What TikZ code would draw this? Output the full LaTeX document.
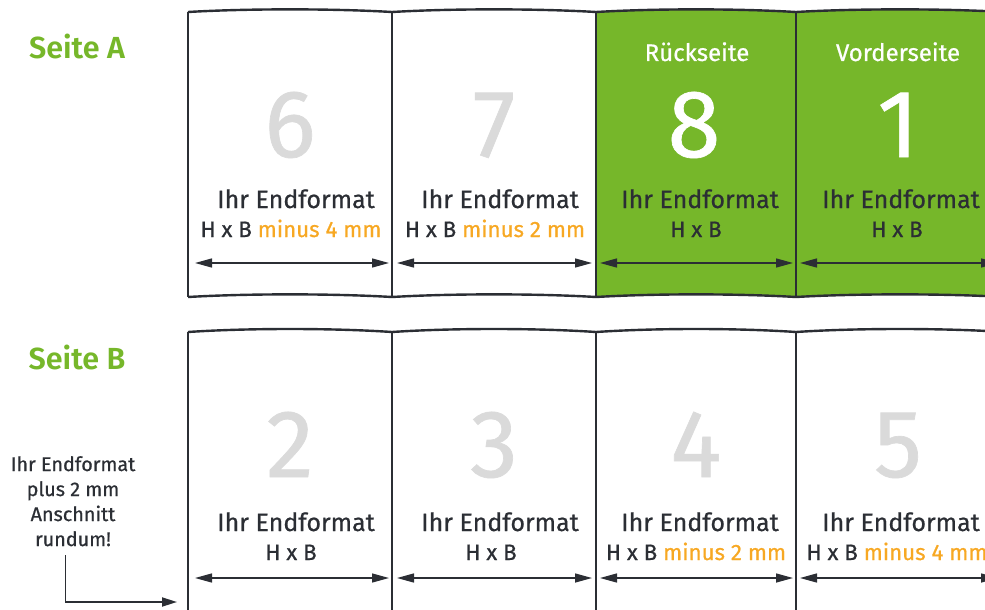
\documentclass[tikz,border=0pt]{standalone}
\usepackage{fontspec}
\setmainfont{Fira Sans}[BoldFont=* SemiBold]
\newfontfamily\regf{Fira Sans}[FakeBold=0.7]
\usetikzlibrary{arrows.meta}
\definecolor{dgreen}{HTML}{76B72A}
\definecolor{dgrey}{HTML}{DADADA}
\definecolor{dorange}{HTML}{F7A823}
\definecolor{ddark}{HTML}{2B2E34}
\tikzset{
  outline/.style={draw=ddark,line width=2.4pt,line join=round},
  dimarrow/.style={draw=ddark,line width=1.4pt,{Triangle[length=17pt,width=9pt]}-{Triangle[length=17pt,width=9pt]}},
  bignum/.style={anchor=base,inner sep=0pt,font=\regf\fontsize{96}{100}\selectfont,text=dgrey},
  endfmt/.style={anchor=base,inner sep=0pt,font=\regf\fontsize{25}{30}\selectfont,text=ddark},
  hxb/.style={anchor=base,inner sep=0pt,font=\regf\fontsize{22.3}{26}\selectfont,text=ddark},
  sidelabel/.style={anchor=base,inner sep=0pt,font=\bfseries\fontsize{30.5}{34}\selectfont,text=dgreen},
  seitelabel/.style={anchor=base,inner sep=0pt,font=\regf\fontsize{24}{28}\selectfont,text=white},
  note/.style={align=center,inner sep=0pt,font=\regf\fontsize{19.8}{25}\selectfont,text=ddark},
  noteline/.style={draw=ddark,line width=1.8pt,-{Triangle[length=15pt,width=9pt]}}
}
\begin{document}
\begin{tikzpicture}[x=1pt,y=-1pt]
\useasboundingbox (0,0) rectangle (985,610);
\clip (0,0) rectangle (985,610);
% ---------- Row A ----------
\fill[dgreen] (596,12) .. controls (656,8.5) and (736,8.5) .. (796,12)
  .. controls (866,8.5) and (934,8.5) .. (1004,12) -- (1004,297)
  .. controls (934,293.5) and (866,293.5) .. (796,297)
  .. controls (736,293.5) and (656,293.5) .. (596,297) -- cycle;
\foreach \a/\b in {188/392,392/596,596/796,796/1004}{
  \draw[outline] (\a,12) .. controls ({\a+60},8.5) and ({\b-60},8.5) .. (\b,12);
  \draw[outline] (\a,297) .. controls ({\a+60},293.5) and ({\b-60},293.5) .. (\b,297);
}
\foreach \a in {188,392,596,796,1004}{
  \draw[outline] (\a,12) -- (\a,297);
}
% ---------- Row B ----------
\foreach \a/\b in {188/392,392/596,596/796,796/1004}{
  \draw[outline] (\a,332) .. controls ({\a+60},328) and ({\b-60},328) .. (\b,332);
}
\foreach \a in {188,392,596,796,1004}{
  \draw[outline] (\a,332) -- (\a,620);
}
% ---------- Labels ----------
\node[sidelabel] (sa) at (77,59) {Seite A};
\node[sidelabel] (sb) at (77,369) {Seite B};
% row A texts
\node[bignum] (n6) at (290,157) {6};
\node[bignum] (n7) at (494,157) {7};
\node[bignum,text=white] (n8) at (694,157) {8};
\node[bignum,text=white] (n1) at (898,157) {1};
\node[seitelabel] (rs) at (697,61) {Rückseite};
\node[seitelabel] (vs) at (898,61) {Vorderseite};
\node[endfmt] (ea1) at (296,208) {Ihr Endformat};
\node[endfmt] (ea2) at (500,208) {Ihr Endformat};
\node[endfmt] (ea3) at (700,208) {Ihr Endformat};
\node[endfmt] (ea4) at (901,208) {Ihr Endformat};
\node[hxb] (ha1) at (291,237) {H x B \textcolor{dorange}{minus 4 mm}};
\node[hxb] (ha2) at (495,237) {H x B \textcolor{dorange}{minus 2 mm}};
\node[hxb] (ha3) at (696,237) {H x B};
\node[hxb] (ha4) at (897,237) {H x B};
\coordinate (a0) at (195,263); \coordinate (a1) at (389,263);
\coordinate (a2) at (397,263); \coordinate (a3) at (592,263);
\coordinate (a4) at (600,263); \coordinate (a5) at (793,263);
\coordinate (a6) at (800,263); \coordinate (a7) at (998,263);
\draw[dimarrow] (a0) -- (a1);
\draw[dimarrow] (a2) -- (a3);
\draw[dimarrow] (a4) -- (a5);
\draw[dimarrow] (a6) -- (a7);
% row B texts
\node[bignum] (n2) at (290,477) {2};
\node[bignum] (n3) at (494,477) {3};
\node[bignum] (n4) at (696,477) {4};
\node[bignum] (n5) at (898,477) {5};
\node[endfmt] (eb1) at (296,531) {Ihr Endformat};
\node[endfmt] (eb2) at (500,531) {Ihr Endformat};
\node[endfmt] (eb3) at (700,531) {Ihr Endformat};
\node[endfmt] (eb4) at (901,531) {Ihr Endformat};
\node[hxb] (hb1) at (291,560) {H x B};
\node[hxb] (hb2) at (491,560) {H x B};
\node[hxb] (hb3) at (696,560) {H x B \textcolor{dorange}{minus 2 mm}};
\node[hxb] (hb4) at (897,560) {H x B \textcolor{dorange}{minus 4 mm}};
\coordinate (b0) at (195,578); \coordinate (b1) at (389,578);
\coordinate (b2) at (397,578); \coordinate (b3) at (592,578);
\coordinate (b4) at (600,578); \coordinate (b5) at (793,578);
\coordinate (b6) at (800,578); \coordinate (b7) at (998,578);
\draw[dimarrow] (b0) -- (b1);
\draw[dimarrow] (b2) -- (b3);
\draw[dimarrow] (b4) -- (b5);
\draw[dimarrow] (b6) -- (b7);
% annotation
\node[note,anchor=north] (nt) at (73,456) {Ihr Endformat\\plus 2 mm\\Anschnitt\\rundum!};
\coordinate (nstart) at (65.5,555);
\coordinate (nend) at (177,602);
\draw[noteline] (nstart) |- (nend);
\end{tikzpicture}
\end{document}
